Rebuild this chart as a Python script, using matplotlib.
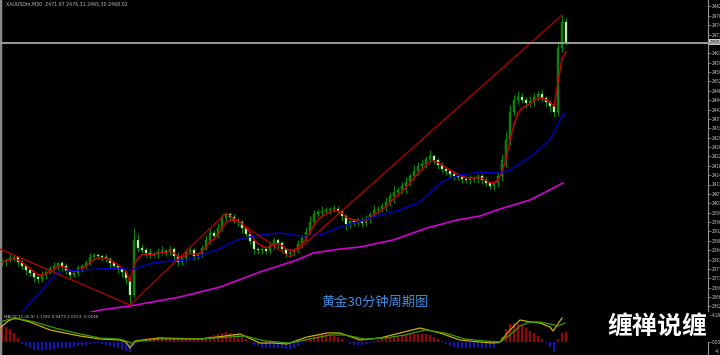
import numpy as np
import pandas as pd
import matplotlib
matplotlib.use("Agg")
import matplotlib.pyplot as plt
from matplotlib.lines import Line2D

# XAUUSD 30 min candles (close prices)
first_open = 2379.6
closes = [
    2380.0, 2380.8, 2381.6, 2382.0, 2380.0, 2378.4, 2376.8, 2375.6, 2374.0, 2373.2,
    2374.8, 2376.0, 2377.6, 2378.4, 2379.6, 2378.4, 2376.4, 2374.8, 2375.6, 2377.6,
    2378.4, 2379.6, 2382.0, 2382.8, 2382.4, 2382.0, 2381.2, 2379.6, 2378.4, 2377.2,
    2376.0, 2373.6, 2366.8, 2388.8, 2385.6, 2384.8, 2383.6, 2382.8, 2383.2, 2384.0,
    2384.4, 2384.0, 2385.2, 2382.4, 2380.0, 2381.6, 2384.0, 2384.8, 2382.4, 2383.2,
    2385.6, 2388.8, 2391.6, 2390.4, 2393.6, 2397.6, 2399.2, 2398.0, 2396.8, 2396.0,
    2393.6, 2391.2, 2388.4, 2385.2, 2384.8, 2385.2, 2384.4, 2386.8, 2388.8, 2387.6,
    2385.2, 2383.2, 2384.0, 2384.8, 2387.2, 2389.6, 2392.0, 2396.0, 2399.2, 2400.0,
    2400.4, 2400.8, 2401.2, 2401.2, 2400.4, 2398.4, 2395.2, 2396.4, 2396.0, 2396.8,
    2395.6, 2397.2, 2399.2, 2400.8, 2401.2, 2402.4, 2404.0, 2406.4, 2408.0, 2408.8,
    2410.4, 2412.0, 2414.4, 2416.4, 2418.4, 2419.2, 2421.2, 2422.4, 2420.8, 2418.8,
    2417.2, 2416.4, 2415.2, 2414.4, 2414.0, 2413.2, 2412.8, 2413.6, 2413.2, 2414.4,
    2412.8, 2411.6, 2410.4, 2411.6, 2414.4, 2420.8, 2428.8, 2440.0, 2444.8, 2446.0,
    2444.8, 2443.6, 2444.4, 2446.0, 2447.2, 2445.6, 2444.0, 2442.4, 2440.0, 2465.6,
    2476.0, 2468.0,
]
upper_wick = [
    1.2, 0.8, 1.6, 1.0, 0.6, 1.4, 0.8, 1.0, 0.6, 1.2,
    1.6, 0.8, 1.0, 1.8, 0.6, 0.8, 1.2, 0.6, 1.0, 1.4,
    0.8, 1.2, 1.6, 1.0, 0.8, 0.6, 1.2, 0.8, 1.0, 0.6,
    0.8, 1.0, 0.6, 4.8, 2.4, 1.6, 1.2, 2.0, 1.0, 1.6,
    2.2, 0.8, 1.4, 1.0, 1.8, 0.8, 1.2, 1.6, 0.8, 1.0,
    1.4, 1.8, 2.2, 1.2, 2.0, 1.6, 0.4, 0.8, 1.2, 0.8,
    1.0, 0.6, 0.8, 1.2, 0.8, 1.4, 1.0, 1.6, 1.2, 0.8,
    1.0, 0.6, 1.2, 1.0, 1.6, 1.4, 2.0, 2.4, 1.8, 1.2,
    2.2, 1.4, 1.0, 1.6, 1.2, 0.8, 1.0, 1.4, 0.8, 1.0,
    1.2, 1.6, 1.0, 1.8, 1.2, 1.4, 2.0, 1.6, 2.4, 1.2,
    1.8, 2.2, 1.4, 2.6, 1.6, 2.0, 1.2, 2.4, 1.0, 0.8,
    1.2, 0.8, 1.0, 1.4, 0.8, 1.0, 0.6, 1.2, 0.8, 1.0,
    0.8, 1.2, 1.0, 0.8, 1.6, 2.4, 3.2, 2.8, 2.0, 2.6,
    1.8, 1.4, 2.2, 1.6, 1.2, 2.0, 1.0, 0.8, 1.4, 3.0,
    2.8, 1.6,
]
lower_wick = [
    1.0, 1.4, 0.8, 1.2, 1.6, 1.0, 1.8, 1.2, 2.0, 1.4,
    1.0, 1.6, 0.8, 1.2, 1.4, 1.8, 1.0, 1.6, 0.8, 1.2,
    1.4, 1.0, 0.8, 1.2, 1.0, 1.4, 1.2, 1.6, 1.0, 1.4,
    1.8, 2.4, 4.0, 1.2, 1.6, 1.0, 1.4, 1.2, 0.8, 1.6,
    1.0, 1.4, 1.2, 2.2, 1.6, 1.0, 1.4, 0.8, 1.6, 1.2,
    1.0, 0.8, 1.4, 1.2, 0.8, 1.0, 1.2, 1.6, 1.0, 1.4,
    1.8, 1.6, 1.2, 2.0, 1.4, 1.6, 1.2, 1.0, 1.4, 1.8,
    1.6, 1.2, 1.2, 1.6, 1.0, 1.4, 1.2, 0.8, 1.4, 1.0,
    1.2, 0.8, 1.6, 1.2, 1.0, 1.8, 2.2, 1.4, 1.6, 1.2,
    1.4, 1.0, 1.6, 1.2, 1.4, 1.0, 1.8, 1.6, 2.6, 1.2,
    1.6, 2.8, 1.4, 1.2, 2.0, 1.6, 1.4, 1.2, 1.6, 1.4,
    1.2, 1.6, 1.0, 1.4, 1.2, 1.6, 1.0, 1.4, 1.2, 1.6,
    1.4, 1.0, 1.2, 1.6, 1.4, 2.0, 2.6, 1.8, 1.4, 1.6,
    1.2, 1.8, 1.4, 2.0, 1.6, 1.4, 1.8, 2.2, 2.0, 1.6,
    1.4, 1.2,
]

# slow moving averages (bar index, price)
blue_idx = [4.0, 5.0, 9.5, 14.0, 19.5, 24.5, 29.5, 32.0, 34.5, 37.75, 42.0, 46.25, 49.5,
            52.0, 54.5, 57.0, 59.5, 64.5, 69.5, 74.5, 79.5, 84.5, 89.5, 94.5, 99.5,
            104.5, 107.0, 109.5, 112.0, 114.5, 119.5, 124.5, 127.0, 132.0, 137.0,
            139.5, 140.75]
blue_val = [2357.6, 2360.0, 2368.0, 2376.0, 2376.8, 2377.2, 2377.6, 2376.8, 2378.0, 2379.6,
            2380.4, 2380.8, 2382.4, 2384.0, 2385.2, 2387.6, 2389.2, 2390.8, 2391.6, 2390.4,
            2390.8, 2394.0, 2396.4, 2398.8, 2400.8, 2404.0, 2407.6, 2411.6, 2413.6, 2414.8,
            2416.0, 2415.6, 2416.8, 2422.0, 2428.8, 2436.8, 2439.6]
mag_idx = [21.5, 24.5, 32.0, 44.5, 54.5, 64.5, 73.75, 77.75, 84.5, 89.5, 97.75, 106.25,
           113.75, 119.5, 124.5, 132.0, 140.25]
mag_val = [2359.6, 2360.8, 2362.4, 2366.0, 2370.0, 2376.0, 2380.8, 2383.6, 2385.2, 2386.0,
           2388.8, 2393.6, 2396.8, 2398.4, 2401.2, 2404.8, 2411.6]

# zigzag pivots
zz_idx = [-10, 32, 56, 72, 140]
zz_val = [2391.7, 2362.8, 2399.6, 2382.0, 2478.8]

# MACD panel
macd_hist = [
    2.6, 2.4, 2.0, 1.4, 0.6, -0.3, -0.7, -1.0, -1.2, -1.3,
    -1.4, -1.3, -1.2, -1.1, -1.0, -1.0, -0.9, -0.9, -0.8, -0.7,
    -0.6, -0.5, -0.3, -0.2, -0.2, -0.3, -0.4, -0.6, -0.8, -1.0,
    -1.2, -1.4, -1.6, -0.6, 0.3, 0.5, 0.6, 0.7, 0.7, 0.8,
    0.8, 0.7, 0.7, 0.6, 0.5, 0.5, 0.5, 0.5, 0.5, 0.5,
    0.6, 0.8, 1.0, 1.1, 1.2, 1.4, 1.5, 1.4, 1.3, 1.1,
    0.8, 0.4, 0.0, -0.4, -0.7, -0.9, -1.0, -1.0, -0.9, -0.9,
    -1.0, -1.1, -1.1, -0.9, -0.6, -0.2, 0.3, 0.6, 0.9, 1.1,
    1.2, 1.2, 1.1, 1.0, 0.8, 0.4, 0.0, -0.3, -0.4, -0.4,
    -0.4, -0.3, -0.1, 0.1, 0.3, 0.5, 0.7, 0.8, 0.9, 1.0,
    1.1, 1.1, 1.2, 1.2, 1.2, 1.2, 1.2, 1.1, 0.8, 0.5,
    0.1, -0.3, -0.6, -0.8, -0.9, -1.0, -1.0, -0.9, -0.9, -0.8,
    -0.9, -1.0, -1.0, -0.9, -0.3, 0.8, 2.0, 2.9, 3.0, 2.9,
    2.6, 2.2, 1.8, 1.4, 1.0, 0.5, -0.1, -0.8, -1.6, 0.5,
    1.4, 1.6,
]
macd_idx = [-0.5, 1.5, 3.25, 7.0, 12.0, 19.5, 24.5, 29.5, 31.0, 32.0, 33.25, 39.5, 49.5,
            55.75, 59.5, 64.5, 67.75, 71.25, 76.25, 81.25, 84.5, 89.5, 94.5, 99.5, 104.5,
            109.5, 114.5, 119.5, 122.75, 124.5, 127.0, 129.5, 132.0, 134.5, 137.0,
            137.75, 140.0]
macd_val = [2.20, 3.30, 3.77, 3.14, 1.89, 0.94, 0.47, 0.31, 0.0, -0.94, 0.16, 0.63, 0.47,
            0.94, 1.26, -0.16, -0.16, -0.31, 0.79, 1.42, 1.42, 0.31, 0.63, 1.42, 2.20,
            1.42, 0.31, 0.0, -0.16, 0.0, 1.89, 3.46, 3.14, 2.99, 2.36, 1.73, 3.77]
signal_idx = [-0.5, 2.0, 4.5, 8.25, 13.25, 19.5, 24.5, 29.5, 32.5, 34.5, 39.5, 49.5, 57.0,
              60.75, 65.75, 72.0, 77.0, 82.0, 85.75, 90.75, 95.75, 100.75, 105.75, 110.75,
              115.75, 120.75, 124.5, 127.0, 129.5, 132.0, 134.5, 137.0, 139.0, 140.75]
signal_val = [3.14, 3.62, 3.62, 3.14, 2.20, 1.26, 0.63, 0.47, -0.16, 0.16, 0.47, 0.47, 0.79,
              0.94, 0.16, -0.16, 0.47, 1.10, 1.10, 0.47, 0.63, 1.10, 1.89, 1.42,
              0.47, 0.16, 0.0, 1.10, 2.52, 3.14, 3.14, 2.83, 2.52, 2.99]

closes = np.array(closes)
opens = np.r_[first_open, closes[:-1]]
highs = np.maximum(opens, closes) + np.array(upper_wick)
lows = np.minimum(opens, closes) - np.array(lower_wick)
idx = np.arange(len(closes))
ema = pd.Series(closes).ewm(span=4, adjust=False).mean()
last = closes[-1]

plt.rcParams['font.family'] = ['Noto Sans CJK SC', 'DejaVu Sans']
fig = plt.figure(figsize=(7.2, 3.55), dpi=100, facecolor="black")
ax = fig.add_axes([0, 43 / 355, 708 / 720, 312 / 355])
mx = fig.add_axes([0, 0, 708 / 720, 41 / 355])

for a in (ax, mx):
    a.set_facecolor("black")
    a.set_xlim(-0.5, 176.5)
    a.set_xticks([])
    a.yaxis.tick_right()
    a.tick_params(axis="y", colors="#9a9a9a", labelcolor="#c8c8c8", labelsize=3.4,
                  length=2, width=0.5, pad=1)
    for s in ("top", "bottom"):
        a.spines[s].set_visible(False)
    a.spines["left"].set_color("#8a8a8a")
    a.spines["left"].set_linewidth(2.5)
    a.spines["right"].set_color("#9a9a9a")
    a.spines["right"].set_linewidth(0.8)

ax.set_ylim(2360.0, 2484.8)
ticks = np.arange(2362.25, 2484, 3.75)
ticks = ticks[np.abs(ticks - last) > 2.5]
ax.set_yticks(ticks)
ax.set_yticklabels([f"{t:.2f}" for t in ticks])

# candles
ax.vlines(idx, lows, highs, color="#0b8a0b", lw=0.7, zorder=2)
bull = closes >= opens
body = np.maximum(np.abs(closes - opens), 0.25)
bottom = np.minimum(opens, closes)
ax.bar(idx[bull], body[bull], bottom=bottom[bull], width=0.6, color="#0c7a0c",
       edgecolor="#15a015", lw=0.3, zorder=2)
ax.bar(idx[~bull], body[~bull], bottom=bottom[~bull], width=0.6, color="#d6ffcc",
       edgecolor="#50d050", lw=0.3, zorder=2)

ax.plot(idx, ema, color="#c80000", lw=1.1, zorder=3)
ax.plot(blue_idx, blue_val, color="#0000c8", lw=1.0, zorder=3)
ax.plot(mag_idx, mag_val, color="#d400d4", lw=1.2, zorder=3)
ax.plot(zz_idx, zz_val, color="#b80000", lw=0.9, zorder=3)

# current price line and tag
ax.axhline(last, color="#5c5c5c", lw=0.8, zorder=1)
ax.text(1.002, last, f"{last:.2f}", transform=ax.get_yaxis_transform(), fontsize=3.4,
        color="black", va="center", ha="left",
        bbox=dict(boxstyle="square,pad=0.15", fc="#c8c8c8", ec="none"))

# MACD panel
mx.set_ylim(-2.04, 4.4)
hist = np.array(macd_hist)
mx.bar(idx, hist, width=0.35, color=np.where(hist >= 0, "#a00000", "#1414b4"), zorder=2)
mx.plot(macd_idx, macd_val, color="#c8b000", lw=0.9, zorder=3)
mx.plot(signal_idx, signal_val, color="#3c9a00", lw=0.9, zorder=3)
mx.set_yticks([4.18, 0.0])
mx.set_yticklabels(["4.18", "0.00"])
mx.text(1.01, 0.08, "-4.17", transform=mx.transAxes, fontsize=3.4, color="#c8c8c8",
        va="center", ha="left")

fig.add_artist(Line2D([0, 1], [312.5 / 355] * 2, color="#9a9a9a", lw=1.4))

fig.text(6 / 720, 1 - 2 / 355, "XAUUSDm,M30  2471.97 2476.31 2465.30 2468.02", fontsize=3.4,
         color="#bdbdbd", va="top", ha="left", family=["DejaVu Sans"])
fig.text(4 / 720, 1 - 315 / 355, "MACD(12,26,9) 1.1782 0.9473 1.0023 -0.0546", fontsize=3.0,
         color="#bdbdbd", va="top", ha="left", family=["DejaVu Sans"])
fig.text(375 / 720, 1 - 302 / 355, "黄金30分钟周期图", fontsize=9.5, color="#3d8fe0",
         ha="center", va="center")
fig.text(657 / 720, 1 - 327 / 355, "缠禅说缠", fontsize=18, color="white", fontweight="bold",
         ha="center", va="center",
         bbox=dict(boxstyle="square,pad=0.12", fc="black", ec="none"))

fig.savefig("out.png", dpi=100, facecolor="black")
